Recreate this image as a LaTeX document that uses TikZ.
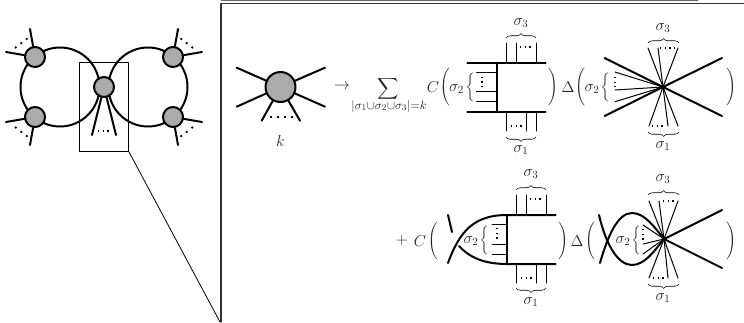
\documentclass[tikz,border=0pt]{standalone}
\usepackage{graphicx}
\usetikzlibrary{decorations.pathreplacing}
\newcommand{\bigparen}[1]{\scalebox{1.15}{$\Bigg#1$}}
\newcommand{\bigcurl}{\scalebox{1.09}{$\bigg\{$}}
\tikzset{
  vertexnode/.style={circle,draw,line width=2pt,fill=black!33,inner sep=0pt,minimum size=#1},
  thickleg/.style={line width=2pt},
  thinleg/.style={line width=1pt},
  dotrow/.style={line width=1.4pt,dash pattern=on 1.4pt off 3.2pt,line cap=butt},
  widedots/.style={line width=1.8pt,dash pattern=on 1.8pt off 5.2pt,line cap=butt},
  frameline/.style={line width=0.8pt},
  bracegroup/.style={line width=0.6pt,decorate,decoration={brace,amplitude=4.5pt}},
  textnode/.style={inner sep=0pt,text=black!85,font=\Large,scale=1.1,transform shape}
}
\begin{document}
\begin{tikzpicture}[x=1pt,y=-1pt,line cap=round,line join=round]
  \useasboundingbox (0,0) rectangle (744,322);
  % loop diagram
  \draw[thickleg] (60,87) circle[radius=39.5];
  \draw[thickleg] (148,87) circle[radius=39.5];
  \foreach \name/\x/\y/\xa/\xb/\ya/\yb in {ul/35/57/6/30/52/29,ll/35/117/6/30/122/145,ur/173/57/202/178/52/29,lr/173/117/202/178/122/145} {
    \node[vertexnode=20pt] (\name) at (\x,\y) {};
    \coordinate (\name a) at (\xa,\ya);
    \coordinate (\name b) at (\xb,\yb);
    \draw[thickleg] (\name) -- (\name a);
    \draw[thickleg] (\name) -- (\name b);
  }
  \draw[widedots] (15,48) -- (28,38);
  \draw[widedots] (15,127) -- (28,137);
  \draw[widedots] (193,48) -- (180,38);
  \draw[widedots] (193,127) -- (180,137);
  \node[vertexnode=20pt] (mid) at (104,87) {};
  \draw[thickleg] (mid) -- (92,135);
  \draw[thickleg] (mid) -- (116,135);
  \draw[dotrow] (98,131) -- (111,131);
  % zoom frame
  \draw[frameline] (79.5,62.5) rectangle (128.5,151);
  \draw[frameline] (128.5,151) -- (220,322);
  \draw[line width=1.1pt,black!80] (744,3.5) -- (221,3.5) -- (221,322);
  \draw[line width=0.5pt,black!60] (221,0.4) -- (698,0.4);
  % effective vertex
  \node[vertexnode=30pt] (kv) at (280.5,87) {};
  \foreach \x/\y in {236.7/67.7,325/67.7,236.7/106.7,325/106.7,261.7/120.7,300/120.7} {\draw[thickleg] (kv) -- (\x,\y);}
  \draw[widedots] (270,116.7) -- (293,116.7);
  \node[textnode] (klabel) at (280.5,141) {$k$};
  \node[textnode] (arrow) at (342,87) {$\rightarrow$};
  \node[textnode] (sumsign) at (388.5,89) {\scalebox{1.35}{$\displaystyle\sum$}};
  \node[textnode,font=\fontsize{10.95}{12}\selectfont] (sumrange) at (389,106) {$|\sigma_1{\cup}\sigma_2{\cup}\sigma_3|{=}k$};
  \node[textnode] (cone) at (433,87) {$C$};
  \node[textnode] (paropen) at (445,87) {\bigparen(};
  \node[textnode] (sigone) at (456.6,89) {$\sigma_2$};
  \node[textnode] (curlone) at (470,87) {\bigcurl};
  % first box
  \draw[thickleg] (467.3,62.7) -- (545.7,62.7);
  \draw[thickleg] (467.3,111.5) -- (545.7,111.5);
  \draw[thickleg] (497.3,62.7) -- (497.3,111.5);
  \foreach \y in {72.7,91.7,101.7} {\draw[thinleg] (476.7,\y) -- (497.3,\y);}
  \draw[dotrow] (482,76.7) -- (482,88);
  \foreach \x in {506,516,536} {\draw[thinleg] (\x,43) -- (\x,62.7);}
  \foreach \x in {506,526,536} {\draw[thinleg] (\x,111.5) -- (\x,131);}
  \draw[dotrow] (520,47) -- (533,47);
  \draw[dotrow] (511,126) -- (523,126);
  \draw[bracegroup] (506,38) -- (536,38);
  \draw[bracegroup] (536,137) -- (506,137);
  \node[textnode] (sigthree) at (521,23) {$\sigma_3$};
  \node[textnode] (sigfour) at (521,150) {$\sigma_1$};
  \node[textnode] (parclose) at (553,87) {\bigparen)};
  \node[textnode] (deltaone) at (568,87) {$\Delta$};
  \node[textnode] (paropenb) at (580,87) {\bigparen(};
  \node[textnode] (sigfive) at (592,89) {$\sigma_2$};
  \node[textnode] (curltwo) at (605,87) {\bigcurl};
  % first star
  \coordinate (stara) at (663,87);
  \foreach \x/\y in {604.6/58,722/58,604.6/116,722/116} {\draw[thickleg] (stara) -- (\x,\y);}
  \foreach \x/\y in {615/72,615/90,615/101.7,648/48,658/48,678/48,649/126,668/126,678/126} {\draw[thinleg] (stara) -- (\x,\y);}
  \draw[dotrow] (615,77) -- (615,87);
  \draw[dotrow] (660,48) -- (675,48);
  \draw[dotrow] (652,126) -- (665,126);
  \draw[bracegroup] (648,43) -- (679,43);
  \draw[bracegroup] (679,132) -- (648,132);
  \node[textnode] (sigsix) at (663,28) {$\sigma_3$};
  \node[textnode] (sigseven) at (663,146) {$\sigma_1$};
  \node[textnode] (parcloseb) at (731,87) {\bigparen)};
  % second row
  \node[textnode] (plus) at (402,241) {$+$};
  \node[textnode] (ctwo) at (420,241) {$C$};
  \node[textnode] (paropenc) at (433,241) {\bigparen(};
  \draw[thickleg] (448,215) -- (452,232);
  \draw[thickleg] (448,263) .. controls (460,230) and (475,215) .. (507,215) -- (555.7,215);
  \draw[thickleg] (459,246) .. controls (470,258) and (485,264) .. (507,264) -- (555.7,264);
  \draw[thickleg] (507,215) -- (507,264);
  \foreach \y in {224,244,254} {\draw[thinleg] (492,\y) -- (507,\y);}
  \draw[dotrow] (497,228) -- (497,240);
  \foreach \x in {516.7,526,546} {\draw[thinleg] (\x,195) -- (\x,215);}
  \foreach \x in {516.7,536,546} {\draw[thinleg] (\x,264) -- (\x,283);}
  \draw[dotrow] (530,199) -- (543,199);
  \draw[dotrow] (521,278) -- (533,278);
  \draw[bracegroup] (516,190) -- (546,190);
  \draw[bracegroup] (546,288) -- (516,288);
  \node[textnode] (sigeight) at (471,241) {$\sigma_2$};
  \node[textnode] (curlthree) at (484,240) {\bigcurl};
  \node[textnode] (signine) at (531,174) {$\sigma_3$};
  \node[textnode] (sigten) at (531,302) {$\sigma_1$};
  \node[textnode] (parclosec) at (563,241) {\bigparen)};
  \node[textnode] (deltatwo) at (577,241) {$\Delta$};
  \node[textnode] (paropend) at (590,241) {\bigparen(};
  % second star
  \coordinate (starb) at (664,239);
  \draw[thickleg] (599,215) .. controls (606,245) and (618,265) .. (632,265) .. controls (645,265) and (655,250) .. (starb);
  \draw[thickleg] (600,263) .. controls (608,235) and (618,213) .. (632,213) .. controls (645,213) and (655,228) .. (starb);
  \foreach \x/\y in {722/210,722/268} {\draw[thickleg] (starb) -- (\x,\y);}
  \foreach \x/\y in {643/225,643/244,643/254,649/201,659/201,678/201,649/278,668/278,678/278} {\draw[thinleg] (starb) -- (\x,\y);}
  \draw[dotrow] (643,229) -- (643,240);
  \draw[dotrow] (663,201) -- (676,201);
  \draw[dotrow] (653,278) -- (666,278);
  \draw[bracegroup] (648,195) -- (679,195);
  \draw[bracegroup] (679,284) -- (648,284);
  \node[textnode] (sigeleven) at (623,241) {$\sigma_2$};
  \node[textnode] (curlfour) at (636,240) {\bigcurl};
  \node[textnode] (sigtwelve) at (663,179) {$\sigma_3$};
  \node[textnode] (sigthirteen) at (663,298) {$\sigma_1$};
  \node[textnode] (parclosed) at (731,241) {\bigparen)};
\end{tikzpicture}
\end{document}
